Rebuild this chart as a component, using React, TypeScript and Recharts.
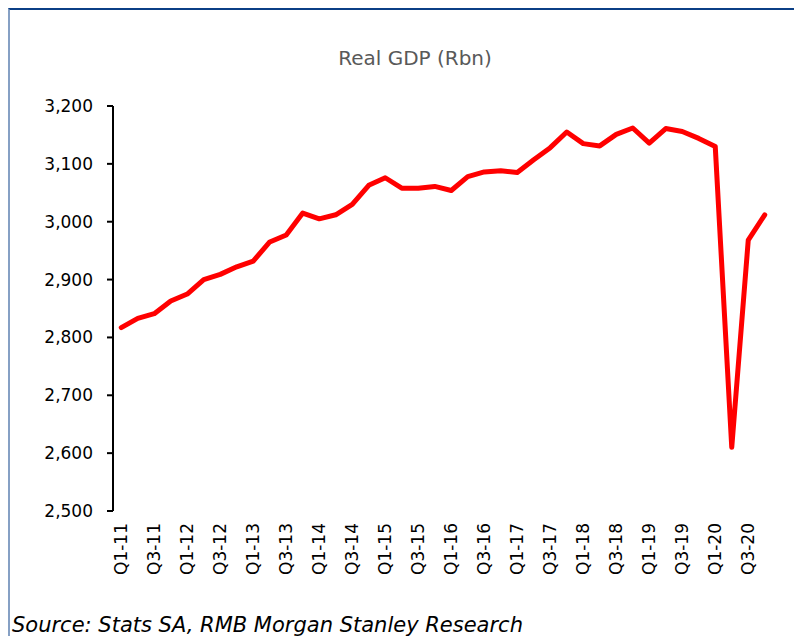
import React from "react";
import { LineChart, Line, XAxis, YAxis } from "recharts";

const quarters = [
  "Q1-11", "Q2-11", "Q3-11", "Q4-11",
  "Q1-12", "Q2-12", "Q3-12", "Q4-12",
  "Q1-13", "Q2-13", "Q3-13", "Q4-13",
  "Q1-14", "Q2-14", "Q3-14", "Q4-14",
  "Q1-15", "Q2-15", "Q3-15", "Q4-15",
  "Q1-16", "Q2-16", "Q3-16", "Q4-16",
  "Q1-17", "Q2-17", "Q3-17", "Q4-17",
  "Q1-18", "Q2-18", "Q3-18", "Q4-18",
  "Q1-19", "Q2-19", "Q3-19", "Q4-19",
  "Q1-20", "Q2-20", "Q3-20", "Q4-20",
];

const gdp = [
  2817, 2833, 2841, 2863, 2875, 2900, 2909, 2922, 2932, 2965,
  2977, 3015, 3005, 3012, 3030, 3063, 3076, 3058, 3058, 3061,
  3054, 3078, 3086, 3088, 3085, 3107, 3128, 3155, 3135, 3131,
  3151, 3162, 3136, 3161, 3156, 3144, 3130, 2610, 2968, 3012,
];

const yTicks = [2500, 2600, 2700, 2800, 2900, 3000, 3100, 3200];

const title = "Real GDP (Rbn)";
const source = "Source: Stats SA, RMB Morgan Stanley Research";

const data = gdp.map((v, i) => ({ x: i + 0.5, v }));
const boundaryTicks = quarters.map((_, i) => i).concat([quarters.length]);
const labelTicks = quarters.map((_, i) => i).filter((i) => i % 2 === 0).map((i) => i + 0.5);

const FONT = "'DejaVu Sans', sans-serif";

const EmptyTick = () => <g />;

const RotTick = (props: any) => {
  const { x, y, payload } = props;
  const label = quarters[Math.floor(payload.value)];
  return (
    <text
      x={x}
      y={y}
      transform={`rotate(-90 ${x} ${y})`}
      textAnchor="end"
      dominantBaseline="central"
      fontSize={17}
      fontFamily={FONT}
      fill="#000"
    >
      {label}
    </text>
  );
};

// root div sits at page (8,8); children are placed in page coordinates minus 8
const O = 8;

export default function App() {
  return (
    <div style={{ position: "relative", width: 786, height: 628 }}>
      <div
        style={{
          position: "absolute",
          left: 0,
          top: 0,
          width: 794,
          height: 636,
          boxSizing: "border-box",
          borderTop: "2px solid #0b3f86",
          borderLeft: "2px solid #86a0c4",
        }}
      />
      <div
        style={{
          position: "absolute",
          left: 215 - O,
          top: 48 - O,
          width: 400,
          textAlign: "center",
          fontFamily: FONT,
          fontSize: 20,
          lineHeight: "20px",
          color: "#595959",
          whiteSpace: "nowrap",
        }}
      >
        {title}
      </div>
      <div style={{ position: "absolute", left: -O, top: -O }}>
        <LineChart
          width={802}
          height={644}
          data={data}
          margin={{ top: 106, right: 29, left: 0, bottom: 0 }}
        >
          <XAxis
            xAxisId="a"
            dataKey="x"
            type="number"
            domain={[0, 40]}
            ticks={boundaryTicks}
            interval={0}
            height={0}
            tick={<EmptyTick />}
            tickSize={6}
            axisLine={{ stroke: "#000", strokeWidth: 2 }}
            tickLine={{ stroke: "#000", strokeWidth: 2 }}
          />
          <XAxis
            xAxisId="b"
            dataKey="x"
            type="number"
            domain={[0, 40]}
            ticks={labelTicks}
            interval={0}
            height={133}
            tick={<RotTick />}
            tickSize={0}
            tickMargin={12}
            axisLine={false}
            tickLine={false}
          />
          <YAxis
            width={113}
            domain={[2500, 3200]}
            ticks={yTicks}
            interval={0}
            tickFormatter={(v: number) => v.toLocaleString("en-US")}
            tick={{ fill: "#000", fontSize: 17, fontFamily: FONT }}
            tickSize={6}
            tickMargin={14}
            axisLine={{ stroke: "#000", strokeWidth: 2 }}
            tickLine={{ stroke: "#000", strokeWidth: 2 }}
          />
          <Line
            xAxisId="a"
            type="linear"
            dataKey="v"
            stroke="#ff0000"
            strokeWidth={5}
            strokeLinejoin="round"
            strokeLinecap="round"
            dot={false}
            activeDot={false}
            isAnimationActive={false}
          />
        </LineChart>
      </div>
      <div
        style={{
          position: "absolute",
          left: 12 - O,
          top: 615 - O,
          fontFamily: FONT,
          fontStyle: "italic",
          fontSize: 21,
          lineHeight: "21px",
          color: "#000",
          whiteSpace: "nowrap",
        }}
      >
        {source}
      </div>
    </div>
  );
}
